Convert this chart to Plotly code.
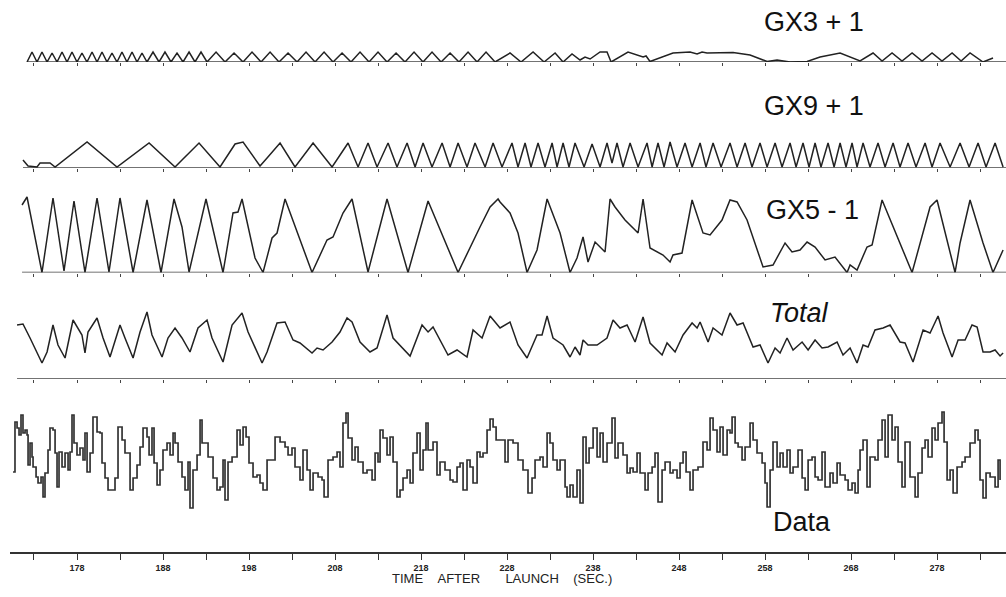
import plotly.graph_objects as go

# ---------------- data (time in seconds after launch) ----------------
TIME_TICKS = [173, 178, 183, 188, 193, 198, 203, 208, 213, 218, 223, 228,
              233, 238, 243, 248, 253, 258, 263, 268, 273, 278, 283]
TICK_TEXT = ["", "178", "", "188", "", "198", "", "208", "", "218", "", "228",
             "", "238", "", "248", "", "258", "", "268", "", "278", ""]
X_RANGE = [170.21, 286.02]

gx3_t = [172.19, 172.77, 173.35, 173.93, 174.52, 175.10, 175.68, 176.26, 176.84, 177.42,
         178.00, 178.58, 179.16, 179.75, 180.33, 180.91, 181.49, 182.07, 182.65, 183.23,
         183.81, 184.40, 184.98, 185.56, 186.14, 186.84, 187.54, 188.23, 188.93, 189.63,
         190.33, 191.03, 191.72, 192.42, 193.12, 194.17, 195.21, 196.26, 197.31, 198.35,
         199.40, 200.45, 201.49, 202.54, 203.59, 204.63, 205.68, 206.73, 207.77, 208.82,
         209.86, 210.91, 211.96, 213.00, 214.05, 215.10, 216.14, 217.19, 218.24, 219.28,
         220.33, 221.38, 222.42, 223.47, 224.52, 225.56, 226.61, 228.35, 229.63, 231.03,
         232.31, 233.59, 234.52, 235.56, 236.49, 237.07, 237.66, 238.82, 239.63, 240.10,
         242.07, 243.47, 243.82, 244.17, 244.63, 247.30, 249.28, 250.10, 250.68, 251.26,
         254.28, 256.26, 258.24, 259.40, 260.91, 262.89, 264.40, 266.73, 267.89, 269.05,
         270.56, 271.61, 272.77, 273.93, 275.10, 276.26, 277.42, 278.58, 279.75, 280.80,
         281.84, 283.35, 284.51]
gx3_v = [0, 1.0, 0, 1.0, 0, 0.9, 0, 1.0, 0, 1.0,
         0, 0.9, 0, 1.0, 0, 1.0, 0, 0.9, 0, 1.0,
         0, 1.0, 0, 0.9, 0, 1.0, 0, 1.0, 0, 0.9,
         0, 1.0, 0, 1.0, 0, 1.0, 0, 0.9, 0, 1.0,
         0, 1.0, 0, 0.9, 0, 1.0, 0, 1.0, 0, 0.9,
         0, 1.0, 0, 1.0, 0, 0.9, 0, 1.0, 0, 1.0,
         0, 0.9, 0, 1.0, 0, 1.0, 0, 0.9, 0, 1.0,
         0, 0.9, 0, 0.8, 0.2, 0.5, 0.3, 1.0, 1.0, 0,
         1.0, 0.6, 0.5, 0.6, 0.05, 0.9, 1.0, 0.8, 1.0, 0.9,
         0.95, 0.7, 0.05, 0.2, 0.0, 0.05, 0.5, 0.9, 0.5, 0.1,
         0.9, 0.1, 0.9, 0.1, 0.9, 0.1, 0.9, 0.1, 0.9, 0.1,
         0.9, 0.0, 0.4]

gx9_t = [171.72, 172.31, 173.35, 173.70, 174.86, 175.45, 179.17, 182.65, 186.38, 189.40,
         190.21, 192.19, 194.63, 196.38, 197.31, 199.28, 200.10, 201.61, 203.35, 205.45,
         207.66, 209.52, 210.68, 211.84, 212.89, 214.17, 215.21, 216.38, 217.31, 218.24,
         219.28, 220.45, 221.38, 222.31, 223.35, 224.28, 225.45, 226.38, 227.42, 228.58,
         229.28, 230.10, 230.79, 231.61, 232.42, 233.24, 233.82, 234.52, 235.21, 235.91,
         236.96, 237.89, 238.82, 239.63, 240.21, 240.79, 241.49, 242.31, 243.24, 244.28,
         244.87, 245.56, 246.26, 246.96, 247.77, 248.70, 249.52, 250.45, 251.14, 251.96,
         252.89, 253.93, 254.75, 255.68, 256.49, 257.42, 258.24, 259.17, 259.98, 260.91,
         261.61, 262.42, 263.12, 263.82, 264.51, 265.33, 266.03, 266.73, 267.42, 268.12,
         268.70, 269.40, 270.21, 271.14, 271.96, 272.89, 273.70, 274.63, 275.56, 276.61,
         277.42, 278.35, 279.52, 280.68, 281.73, 282.77, 283.70, 284.75, 285.68]
gx9_v = [0.8, 0.2, 0.1, 0.5, 0.5, 0.1, 2.6, 0.1, 2.5, 0.1,
         0.8, 2.5, 0.1, 2.4, 2.6, 0.2, 1.0, 2.5, 0.1, 2.5,
         0.1, 2.5, 0.1, 2.5, 0.1, 2.5, 0.1, 2.5, 0.1, 2.5,
         0.1, 2.5, 0.1, 2.5, 0.1, 2.5, 0.1, 2.5, 0.1, 2.5,
         0.1, 2.5, 0.1, 2.5, 0.1, 2.5, 0.1, 2.5, 0.1, 2.5,
         0.1, 2.4, 0.1, 2.5, 0.5, 2.5, 0.1, 2.5, 0.1, 2.5,
         0.1, 2.5, 0.1, 2.6, 0.1, 2.5, 0.1, 2.5, 0.1, 2.5,
         0.1, 2.5, 0.1, 2.5, 0.1, 2.5, 0.1, 2.5, 0.1, 2.5,
         0.1, 2.5, 0.1, 2.5, 0.1, 2.5, 0.1, 2.5, 0.1, 2.5,
         0.1, 2.5, 0.1, 2.5, 0.1, 2.5, 0.1, 2.5, 0.1, 2.5,
         0.1, 2.5, 0.1, 2.5, 0.1, 2.5, 0.1, 2.5, 0.1]

gx5_t = [171.61, 172.19, 173.93, 175.21, 176.49, 177.65, 178.93, 180.33, 181.72, 183.00,
         184.52, 186.14, 187.77, 189.28, 190.21, 191.03, 193.00, 194.98, 196.14, 196.72,
         197.19, 198.70, 199.63, 200.68, 201.26, 202.19, 205.33, 207.07, 207.77, 208.93,
         209.98, 211.84, 214.05, 216.49, 218.82, 220.56, 222.31, 224.86, 226.03, 226.96,
         227.19, 228.35, 229.28, 230.33, 231.49, 232.66, 234.17, 235.33, 236.14, 236.84,
         237.42, 238.24, 239.40, 239.98, 240.56, 241.72, 243.24, 243.82, 244.63, 246.14,
         246.96, 247.30, 248.35, 249.52, 250.79, 251.61, 253.00, 253.93, 254.75, 255.91,
         257.77, 258.93, 260.33, 261.14, 262.07, 262.89, 263.82, 264.98, 266.14, 267.54,
         267.89, 268.70, 269.86, 270.45, 271.61, 275.10, 277.19, 278.00, 280.10, 280.68,
         281.84, 283.35, 284.51, 285.68]
gx5_v = [6.75, 7.55, 0.0, 7.45, 0.15, 7.15, 0.0, 7.45, 0.05, 7.45,
         0.0, 7.25, 0.0, 7.35, 4.55, 0.05, 7.35, 0.0, 5.95, 6.05,
         7.35, 1.45, 0.0, 3.45, 3.95, 7.35, 0.0, 3.25, 3.55, 5.95,
         7.35, 0.05, 7.35, 0.0, 7.15, 3.55, 0.0, 4.55, 6.55, 7.35,
         7.05, 5.95, 3.95, 0.0, 2.25, 7.35, 3.95, 0.0, 1.45, 3.55,
         1.05, 3.05, 2.05, 7.35, 6.55, 5.25, 3.95, 7.35, 2.45, 1.75,
         1.05, 1.75, 1.95, 7.25, 3.95, 3.75, 5.25, 7.25, 7.05, 5.25,
         0.55, 0.75, 2.95, 2.05, 2.25, 3.05, 2.55, 1.25, 1.55, 0.0,
         0.75, 0.25, 2.55, 2.75, 7.25, 0.0, 6.55, 7.25, 0.0, 2.95,
         7.25, 2.95, 0.0, 2.25]

total_t = [171.03, 171.72, 172.54, 173.93, 174.52, 175.21, 175.79, 176.61, 177.54, 178.58,
           178.93, 179.28, 180.33, 181.03, 181.84, 183.00, 183.58, 184.52, 185.33, 186.14,
           186.72, 187.89, 188.58, 189.40, 190.21, 191.14, 192.07, 193.12, 193.70, 194.98,
           196.03, 197.19, 197.89, 199.52, 200.10, 201.26, 202.19, 203.12, 203.93, 205.33,
           205.91, 206.61, 207.66, 208.58, 209.40, 209.98, 210.91, 212.07, 212.89, 214.05,
           214.75, 215.56, 216.73, 218.12, 218.82, 219.40, 221.14, 222.19, 223.35, 224.05,
           225.10, 226.03, 227.19, 228.35, 229.28, 230.33, 231.49, 232.07, 232.66, 233.35,
           234.52, 235.33, 235.91, 236.49, 236.84, 237.42, 238.47, 239.63, 240.33, 241.14,
           241.96, 242.89, 243.82, 244.63, 246.03, 246.61, 247.54, 248.47, 249.52, 250.10,
           250.45, 251.38, 251.96, 253.00, 253.93, 254.75, 255.45, 256.61, 257.42, 258.35,
           259.17, 259.75, 260.56, 261.26, 262.31, 263.01, 263.82, 264.63, 265.33, 266.38,
           267.07, 267.89, 268.70, 269.40, 269.98, 270.79, 271.73, 272.54, 273.70, 274.28,
           275.21, 276.38, 277.19, 278.12, 278.70, 279.75, 280.45, 281.26, 282.07, 282.66,
           283.35, 284.17, 284.75, 285.33, 285.68]
total_v = [5.4, 5.5, 4.1, 1.6, 2.7, 5.4, 3.4, 2.1, 5.9, 4.4,
           2.6, 4.7, 6.1, 4.1, 2.2, 5.4, 4.1, 2.1, 4.7, 6.7,
           4.4, 2.2, 4.1, 5.1, 4.1, 2.7, 5.1, 5.9, 4.1, 1.7,
           5.4, 6.6, 4.7, 1.6, 2.7, 5.6, 5.7, 3.9, 3.6, 2.6,
           3.1, 2.9, 3.7, 4.7, 6.1, 5.7, 3.7, 2.7, 3.1, 6.4,
           4.1, 3.4, 2.3, 5.4, 4.7, 5.2, 2.4, 2.9, 2.2, 4.9,
           4.1, 6.3, 5.1, 5.7, 3.4, 2.1, 4.4, 4.4, 6.3, 4.1,
           3.4, 2.2, 3.2, 2.4, 3.9, 3.4, 3.4, 4.1, 5.9, 5.1,
           5.4, 3.7, 6.2, 3.6, 2.4, 3.6, 2.7, 4.4, 5.6, 5.1,
           5.7, 3.7, 5.1, 4.4, 6.6, 5.4, 5.6, 3.2, 3.4, 1.6,
           3.1, 2.6, 4.1, 2.9, 3.7, 2.9, 3.9, 3.1, 3.2, 3.7,
           2.4, 3.1, 1.6, 3.4, 3.2, 4.9, 5.1, 5.4, 3.7, 3.6,
           1.7, 4.9, 4.6, 6.3, 4.6, 2.2, 3.9, 3.9, 5.4, 5.2,
           2.7, 2.7, 2.9, 2.3, 2.6]

data_t = [170.56, 170.79, 171.03, 171.26, 171.49, 171.72, 171.96, 172.19, 172.31, 172.54,
          172.77, 172.89, 173.24, 173.47, 173.82, 174.05, 174.28, 174.63, 174.86, 175.21,
          175.45, 175.68, 175.91, 176.26, 176.61, 176.96, 177.19, 177.42, 177.65, 178.00,
          178.35, 178.70, 178.93, 179.17, 179.52, 179.86, 180.33, 180.68, 180.91, 181.26,
          181.61, 182.07, 182.42, 182.77, 183.24, 183.58, 184.17, 184.52, 184.98, 185.33,
          185.68, 186.14, 186.38, 186.72, 186.96, 187.31, 187.65, 188.00, 188.47, 188.82,
          189.17, 189.40, 189.75, 190.21, 190.56, 190.91, 191.14, 191.49, 191.96, 192.31,
          192.54, 192.89, 193.24, 193.82, 194.28, 194.63, 194.98, 195.21, 195.56, 196.03,
          196.61, 196.96, 197.31, 197.66, 198.00, 198.47, 198.93, 199.28, 199.63, 200.10,
          200.68, 201.03, 201.61, 202.19, 202.54, 203.00, 203.35, 203.93, 204.28, 204.75,
          205.10, 205.45, 206.03, 206.49, 206.73, 207.19, 207.77, 208.24, 208.58, 208.93,
          209.28, 209.52, 209.98, 210.33, 210.68, 211.26, 211.72, 212.31, 212.66, 213.00,
          213.24, 213.58, 214.05, 214.40, 214.75, 215.21, 215.56, 215.91, 216.38, 216.73,
          217.07, 217.54, 217.89, 218.24, 218.58, 218.82, 219.40, 219.86, 220.21, 220.79,
          221.38, 221.72, 222.19, 222.54, 222.89, 223.35, 223.70, 224.05, 224.52, 224.86,
          225.21, 225.68, 226.03, 226.38, 226.73, 227.19, 227.77, 228.12, 228.70, 229.28,
          229.86, 230.44, 230.91, 231.26, 231.84, 232.19, 232.66, 233.00, 233.35, 233.82,
          234.17, 234.75, 234.98, 235.33, 235.68, 236.14, 236.49, 236.84, 237.19, 237.54,
          238.01, 238.47, 238.82, 239.17, 239.63, 240.21, 240.56, 240.91, 241.49, 241.96,
          242.31, 242.66, 243.12, 243.47, 244.05, 244.40, 244.87, 245.21, 245.56, 246.03,
          246.38, 246.96, 247.30, 247.77, 248.12, 248.47, 248.82, 249.28, 249.63, 250.21,
          250.79, 251.26, 251.61, 251.96, 252.42, 252.77, 253.12, 253.59, 253.93, 254.17,
          254.52, 254.87, 255.33, 255.68, 256.26, 256.61, 257.07, 257.66, 258.00, 258.24,
          258.59, 258.93, 259.40, 259.75, 260.10, 260.56, 260.91, 261.26, 261.84, 262.31,
          262.66, 263.01, 263.47, 263.82, 264.17, 264.63, 264.98, 265.56, 265.91, 266.38,
          266.73, 267.31, 267.66, 268.12, 268.47, 268.82, 269.05, 269.40, 269.86, 270.21,
          270.79, 271.14, 271.61, 271.96, 272.31, 272.77, 273.12, 273.47, 273.93, 274.28,
          274.86, 275.45, 275.79, 276.26, 276.61, 276.96, 277.42, 277.77, 278.12, 278.58,
          278.82, 279.17, 279.52, 279.87, 280.33, 280.91, 281.26, 281.84, 282.42, 282.77,
          283.00, 283.35, 283.70, 284.17, 284.75, 285.10, 285.33]
data_v = [8.0, 13.0, 12.4, 11.7, 13.7, 11.9, 12.2, 11.7, 8.7, 10.9,
          9.5, 8.5, 7.5, 6.9, 7.5, 5.5, 7.9, 10.2, 12.4, 12.2,
          9.9, 6.5, 10.0, 8.5, 9.9, 8.2, 10.0, 13.7, 10.9, 9.7,
          10.4, 9.2, 11.9, 8.0, 9.9, 13.5, 12.0, 11.9, 8.9, 7.4,
          6.2, 6.2, 7.4, 12.5, 11.2, 9.9, 6.2, 7.4, 8.7, 10.5,
          12.4, 11.5, 9.7, 12.4, 8.9, 6.7, 8.2, 10.2, 10.9, 9.7,
          11.9, 10.9, 9.0, 7.5, 6.2, 9.0, 4.4, 8.2, 9.7, 13.2,
          10.9, 10.9, 9.5, 7.4, 6.2, 6.5, 9.2, 5.2, 9.0, 9.5,
          12.2, 10.7, 12.5, 11.5, 8.9, 7.5, 7.7, 6.9, 6.2, 9.2,
          9.2, 11.5, 11.0, 10.5, 9.7, 10.4, 8.5, 7.2, 10.2, 8.2,
          6.2, 7.9, 7.5, 7.2, 5.5, 9.2, 9.5, 10.0, 8.5, 12.9,
          13.9, 11.4, 9.2, 10.5, 9.0, 7.9, 8.2, 7.2, 9.9, 9.0,
          12.2, 11.4, 9.7, 11.5, 9.0, 5.5, 6.2, 7.4, 8.2, 6.9,
          9.9, 11.9, 8.2, 10.2, 12.9, 10.2, 11.0, 7.7, 9.0, 8.2,
          7.2, 7.0, 8.5, 8.9, 6.2, 9.2, 8.5, 6.9, 10.0, 9.5,
          9.9, 12.2, 13.3, 12.5, 11.2, 11.2, 9.0, 11.2, 10.9, 9.2,
          8.2, 5.9, 7.4, 9.2, 9.5, 8.5, 11.9, 10.9, 9.2, 8.2,
          9.2, 6.5, 5.5, 6.7, 5.5, 8.2, 4.9, 11.5, 8.9, 10.4,
          12.4, 9.5, 11.9, 9.0, 10.9, 13.4, 9.4, 10.9, 9.7, 7.9,
          8.4, 8.0, 9.9, 7.9, 6.2, 7.9, 8.5, 9.9, 5.0, 8.2,
          9.0, 7.9, 8.2, 7.4, 8.9, 10.0, 8.0, 6.2, 8.2, 8.5,
          11.0, 10.2, 13.4, 12.2, 10.0, 12.5, 9.7, 12.2, 11.9, 13.5,
          10.9, 10.5, 9.2, 10.5, 12.9, 11.2, 9.9, 8.9, 6.9, 4.5,
          8.2, 11.0, 8.5, 9.9, 8.5, 10.2, 7.9, 8.5, 10.2, 7.4,
          6.2, 9.2, 9.5, 7.5, 7.2, 10.0, 6.5, 7.9, 6.9, 8.9,
          7.7, 7.2, 6.2, 6.9, 5.9, 8.2, 10.2, 11.2, 6.5, 9.5,
          9.2, 11.2, 13.2, 9.5, 13.7, 11.2, 12.5, 9.0, 6.5, 11.0,
          7.5, 5.5, 7.9, 10.4, 11.2, 9.5, 12.4, 11.2, 12.9, 14.0,
          11.0, 7.2, 8.2, 5.9, 8.5, 9.0, 9.5, 10.9, 12.2, 11.2,
          7.2, 5.4, 7.9, 7.5, 6.5, 9.2, 7.2]

PANELS = ["GX3 + 1", "GX9 + 1", "GX5 - 1", "Total", "Data"]

# ---------------- figure ----------------
INK = "#222222"
fig = go.Figure()

series = [(gx3_t, gx3_v, "x2", "y2"), (gx9_t, gx9_v, "x3", "y3"),
          (gx5_t, gx5_v, "x4", "y4"), (total_t, total_v, "x5", "y5")]
for t, v, xa, ya in series:
    # zero baseline of each panel
    fig.add_trace(go.Scatter(x=[t[0], X_RANGE[1]], y=[0, 0], mode="lines",
                             line=dict(color="#444444", width=1.3),
                             xaxis=xa, yaxis=ya, hoverinfo="skip"))
    fig.add_trace(go.Scatter(x=t, y=v, mode="lines",
                             line=dict(color=INK, width=1.5),
                             xaxis=xa, yaxis=ya))

fig.add_trace(go.Scatter(x=data_t, y=data_v, mode="lines", line_shape="hv",
                         line=dict(color="#333333", width=1.7),
                         xaxis="x", yaxis="y"))

H = 552.0  # plot-area height in px
def dom(bottom_px, top_px):
    return [(H - bottom_px) / H, (H - top_px) / H]

panel_axis = dict(range=X_RANGE, matches="x", showgrid=False, zeroline=False,
                  showline=False, ticks="outside", ticklen=3, tickwidth=1,
                  tickcolor="#444444", tickvals=TIME_TICKS, showticklabels=False,
                  automargin=False)
yax = dict(showgrid=False, zeroline=False, showline=False, showticklabels=False,
           ticks="", fixedrange=True, automargin=False)

fig.update_layout(
    width=1006, height=597,
    margin=dict(l=10, r=0, t=0, b=45, autoexpand=False),
    paper_bgcolor="white", plot_bgcolor="white",
    showlegend=False,
    xaxis=dict(range=X_RANGE, showgrid=False, zeroline=False, showline=True,
               linecolor="#333333", linewidth=1.5, ticks="outside", ticklen=6,
               tickwidth=1.2, tickcolor="#333333", tickvals=TIME_TICKS,
               ticktext=TICK_TEXT, anchor="y", automargin=False,
               tickfont=dict(family="Liberation Sans", size=9, color="#222222",
                             weight="bold")),
    yaxis=dict(domain=dom(552, 392), range=[0, 16], **yax),
    xaxis2=dict(anchor="y2", **panel_axis),
    yaxis2=dict(domain=dom(62, 22), range=[0, 4], **yax),
    xaxis3=dict(anchor="y3", **panel_axis),
    yaxis3=dict(domain=dom(168, 118), range=[0, 5], **yax),
    xaxis4=dict(anchor="y4", **panel_axis),
    yaxis4=dict(domain=dom(272.5, 192.5), range=[0, 8], **yax),
    xaxis5=dict(anchor="y5", **panel_axis),
    yaxis5=dict(domain=dom(379, 299), range=[0, 8], **yax),
)

def px_x(xp):
    return (xp - 10) / 996.0
def px_y(yp):
    return (H - yp) / H

label_pos = [(814, 22, False), (814, 106, False), (812, 210, False),
             (799, 313, True), (802, 522, False)]
for name, (xp, yp, ital) in zip(PANELS, label_pos):
    fig.add_annotation(text=name, xref="paper", yref="paper",
                       x=px_x(xp), y=px_y(yp), xanchor="center", yanchor="middle",
                       showarrow=False,
                       font=dict(family="Liberation Sans", size=27, color="#111111",
                                 style="italic" if ital else "normal"))

fig.add_annotation(text="TIME\u00a0\u00a0\u00a0\u00a0AFTER\u00a0\u00a0\u00a0\u00a0\u00a0\u00a0\u00a0LAUNCH\u00a0\u00a0\u00a0\u00a0(SEC.)",
                   xref="paper", yref="paper", x=px_x(502), y=px_y(578),
                   xanchor="center", yanchor="middle", showarrow=False,
                   font=dict(family="Liberation Sans", size=13, color="#222222"))

# remove the default 8px page margin so the 1006x597 figure fills the window exactly
fig.write_html("out.html", config={"displayModeBar": False},
               post_script="document.body.style.margin='0px';document.body.style.overflow='hidden';")
